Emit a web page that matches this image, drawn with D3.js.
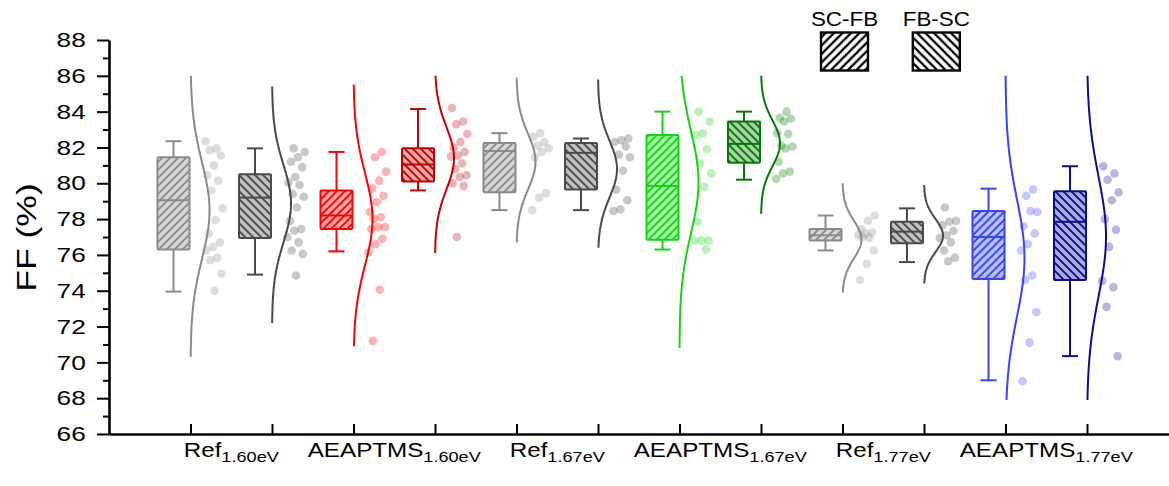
<!DOCTYPE html>
<html>
<head>
<meta charset="utf-8">
<script src="https://cdn.jsdelivr.net/npm/d3@7"></script>
<style>
  body { margin: 0; background: #fff; }
  svg { display: block; }
</style>
</head>
<body>
<div id="chart"></div>
<script>
// ---- data ----
const catMain = ["Ref", "AEAPTMS", "Ref", "AEAPTMS", "Ref", "AEAPTMS"];
const catSub = ["1.60eV", "1.60eV", "1.67eV", "1.67eV", "1.77eV", "1.77eV"];
const orders = ["SC-FB", "FB-SC"];

// one entry per box, left to right (SC-FB, FB-SC for each category)
const groupColors = ["#8a8a8a", "#4a4a4a", "#ff0000", "#c40000", "#8a8a8a", "#4a4a4a",
                     "#10d810", "#007d00", "#8a8a8a", "#4a4a4a", "#3344ff", "#0c0c98"];

const whiskerLo = [73.95, 74.9, 76.2, 79.6, 78.5, 78.5, 76.3, 80.2, 76.25, 75.6, 69.0, 70.35];
const q1 = [76.3, 76.95, 77.45, 80.1, 79.5, 79.65, 76.85, 81.15, 76.8, 76.65, 74.65, 74.6];
const median = [79.05, 79.2, 78.2, 81.05, 81.8, 81.7, 79.85, 82.2, 77.1, 77.3, 77.0, 77.85];
const q3 = [81.45, 80.5, 79.6, 81.95, 82.25, 82.25, 82.7, 83.45, 77.45, 77.85, 78.45, 79.55];
const whiskerHi = [82.35, 81.95, 81.75, 84.15, 82.8, 82.5, 84.0, 84.0, 78.2, 78.6, 79.7, 80.95];

// extent of the drawn distribution curves
const curveLo = [70.3, 72.2, 70.9, 76.1, 76.7, 76.4, 70.8, 78.3, 73.9, 74.4, 67.9, 67.9];
const curveHi = [86.0, 85.4, 85.5, 86.0, 85.9, 85.8, 86.0, 86.0, 80.0, 79.9, 86.0, 86.0];

// FF (%) of the individual devices
const points = [
  [82.35, 81.95, 81.85, 81.55, 81.0, 80.45, 80.15, 79.6, 78.6, 77.95, 77.2, 76.7, 76.45, 76.25, 75.85, 75.7, 74.95, 74.0],
  [81.95, 81.75, 81.45, 81.2, 80.9, 80.35, 80.05, 79.9, 79.4, 79.25, 78.65, 77.9, 77.45, 77.35, 77.0, 76.7, 76.25, 76.05, 74.85],
  [81.75, 81.45, 80.65, 80.15, 79.7, 79.3, 78.95, 78.4, 78.1, 78.0, 77.55, 77.55, 77.45, 76.9, 76.6, 76.15, 74.05, 71.2],
  [84.2, 83.45, 83.3, 82.75, 82.3, 82.0, 81.75, 81.55, 81.5, 81.1, 80.8, 80.45, 80.35, 80.0, 79.85, 77.0],
  [82.8, 82.6, 82.3, 82.1, 81.95, 81.75, 81.45, 79.45, 79.2, 78.5],
  [82.5, 82.4, 82.3, 82.05, 81.6, 81.45, 80.7, 79.65, 79.05, 78.55, 78.45],
  [84.0, 83.45, 82.8, 82.7, 81.9, 81.1, 80.55, 79.8, 77.85, 76.8, 76.8, 76.8, 76.3],
  [84.0, 83.65, 83.6, 83.45, 82.8, 82.75, 82.1, 82.05, 81.95, 81.2, 80.65, 80.55, 80.25],
  [78.2, 77.9, 77.45, 77.25, 77.2, 77.1, 76.95, 77.0, 76.25, 75.5, 74.6],
  [78.65, 77.9, 77.85, 77.65, 77.35, 77.1, 76.95, 76.7, 76.25, 75.85, 75.65],
  [79.65, 79.3, 78.4, 78.45, 77.6, 77.2, 76.6, 76.25, 74.85, 74.6, 72.8, 71.1, 68.95],
  [80.95, 80.55, 80.2, 79.5, 79.05, 78.0, 77.4, 76.45, 74.55, 74.2, 73.1, 70.35]
];

const yMajor = d3.range(66, 89, 2);
const yMinor = d3.range(67, 88, 2);

// ---- chart ----
const width = 1169;
const height = 486;

const svg = d3.select("#chart")
    .append("svg")
    .attr("width", width)
    .attr("height", height)
    .style("font-family", "'Liberation Sans', Arial, sans-serif");

// one unit per box position, axis starts one unit left of the first box
const x = d3.scaleLinear().domain([-1, 12]).range([109, 1168.5]);
const y = d3.scaleLinear().domain([66, 88]).range([434, 40]);

// hatch patterns, "/" for SC-FB and "\" for FB-SC
const defs = svg.append("defs");
function hatch(id, color, back, size, sw) {
    const s = size;
    const p = defs.append("pattern")
        .attr("id", id)
        .attr("patternUnits", "userSpaceOnUse")
        .attr("width", s)
        .attr("height", s);
    p.append("path")
        .attr("d", back
            ? `M${-s / 4},${3 * s / 4}L${s / 4},${5 * s / 4}M0,0L${s},${s}M${3 * s / 4},${-s / 4}L${5 * s / 4},${s / 4}`
            : `M${-s / 4},${s / 4}L${s / 4},${-s / 4}M0,${s}L${s},0M${3 * s / 4},${5 * s / 4}L${5 * s / 4},${3 * s / 4}`)
        .attr("stroke", color)
        .attr("stroke-width", sw)
        .attr("fill", "none");
}
groupColors.forEach((c, i) => hatch("hatch" + i, c, i % 2 === 1, 8, 1.9));
hatch("legHatch0", "#000", false, 8.5, 2.2);
hatch("legHatch1", "#000", true, 8.5, 2.2);

// axes
svg.append("g")
    .attr("transform", `translate(0,${y(66)})`)
    .call(d3.axisBottom(x).tickValues(d3.range(12)).tickSizeInner(-10).tickSizeOuter(0).tickFormat(""))
    .call(g => g.select(".domain").attr("stroke-width", 2.6))
    .call(g => g.selectAll(".tick line").attr("stroke-width", 2));

svg.append("g")
    .attr("transform", `translate(${x(-1)},0)`)
    .call(d3.axisLeft(y).tickValues(yMinor).tickSize(6).tickFormat(""))
    .call(g => g.select(".domain").remove())
    .call(g => g.selectAll(".tick line").attr("stroke-width", 2));

svg.append("g")
    .attr("transform", `translate(${x(-1)},0)`)
    .call(d3.axisLeft(y).tickValues(yMajor).tickSize(12).tickSizeOuter(0))
    .call(g => g.select(".domain").attr("stroke-width", 2.6))
    .call(g => g.selectAll(".tick line").attr("stroke-width", 2))
    .call(g => g.selectAll(".tick text")
        .attr("x", -18.6)
        .attr("transform", "scale(1.25,1)")
        .attr("fill", "#000")
        .style("font-size", "21px"));

// y label
svg.append("text")
    .attr("transform", "translate(35.5,237.5) rotate(-90) scale(1.27,1)")
    .attr("text-anchor", "middle")
    .style("font-size", "28px")
    .text("FF (%)");

// category labels with subscripts
catMain.forEach((name, k) => {
    const t = svg.append("text")
        .attr("transform", `translate(${x(2 * k + 0.5)},456.7) scale(1.21,1)`)
        .attr("text-anchor", "middle")
        .style("font-size", "20px");
    t.append("tspan").text(name);
    t.append("tspan").attr("dy", 5).style("font-size", "15px").text(catSub[k]);
});

// distribution curves
const curveW = 19;
points.forEach((p, i) => {
    const m = d3.mean(p);
    const s = d3.deviation(p);
    const vs = d3.range(curveLo[i], curveHi[i], 0.05).concat([curveHi[i]]);
    const line = d3.line()
        .x(v => x(i) + curveW * Math.exp(-((v - m) ** 2) / (2 * s * s)))
        .y(v => y(v));
    svg.append("path")
        .attr("d", line(vs))
        .attr("fill", "none")
        .attr("stroke", groupColors[i])
        .attr("stroke-width", 2);
});

// data points, spread over a band right of the curve baseline
points.forEach((p, i) => {
    svg.append("g")
        .selectAll("circle")
        .data(p)
        .enter()
        .append("circle")
        .attr("cx", (d, k) => x(i) + 15 + 18 * ((k * 0.618034 + i * 0.37) % 1))
        .attr("cy", d => y(d))
        .attr("r", 4.3)
        .attr("fill", groupColors[i])
        .attr("fill-opacity", 0.3);
});

// boxes
const boxW = 32;
const capW = 16;
groupColors.forEach((c, i) => {
    const cx = x(i) - 17;
    const g = svg.append("g").attr("stroke", c).attr("stroke-width", 2);
    g.append("line").attr("x1", cx).attr("x2", cx).attr("y1", y(whiskerHi[i])).attr("y2", y(q3[i]));
    g.append("line").attr("x1", cx).attr("x2", cx).attr("y1", y(q1[i])).attr("y2", y(whiskerLo[i]));
    g.append("line").attr("x1", cx - capW / 2).attr("x2", cx + capW / 2).attr("y1", y(whiskerHi[i])).attr("y2", y(whiskerHi[i]));
    g.append("line").attr("x1", cx - capW / 2).attr("x2", cx + capW / 2).attr("y1", y(whiskerLo[i])).attr("y2", y(whiskerLo[i]));
    const bx = cx - boxW / 2, by = y(q3[i]), bh = y(q1[i]) - y(q3[i]);
    g.append("rect").attr("x", bx).attr("y", by).attr("width", boxW).attr("height", bh)
        .attr("fill", c).attr("fill-opacity", 0.35).attr("stroke", "none");
    g.append("rect").attr("x", bx).attr("y", by).attr("width", boxW).attr("height", bh)
        .attr("fill", `url(#hatch${i})`).attr("stroke", "none");
    g.append("rect").attr("x", bx).attr("y", by).attr("width", boxW).attr("height", bh)
        .attr("fill", "none").attr("rx", 1);
    g.append("line").attr("x1", bx).attr("x2", bx + boxW).attr("y1", y(median[i])).attr("y2", y(median[i]));
});

// legend
const legX = [844.5, 936.3];
orders.forEach((name, k) => {
    svg.append("text")
        .attr("transform", `translate(${legX[k]},26) scale(1.12,1)`)
        .attr("text-anchor", "middle")
        .style("font-size", "20px")
        .text(name);
    svg.append("rect")
        .attr("x", legX[k] - 23.5)
        .attr("y", 32.5)
        .attr("width", 47)
        .attr("height", 38)
        .attr("fill", `url(#legHatch${k})`)
        .attr("stroke", "#000")
        .attr("stroke-width", 2.4);
});
</script>
</body>
</html>
